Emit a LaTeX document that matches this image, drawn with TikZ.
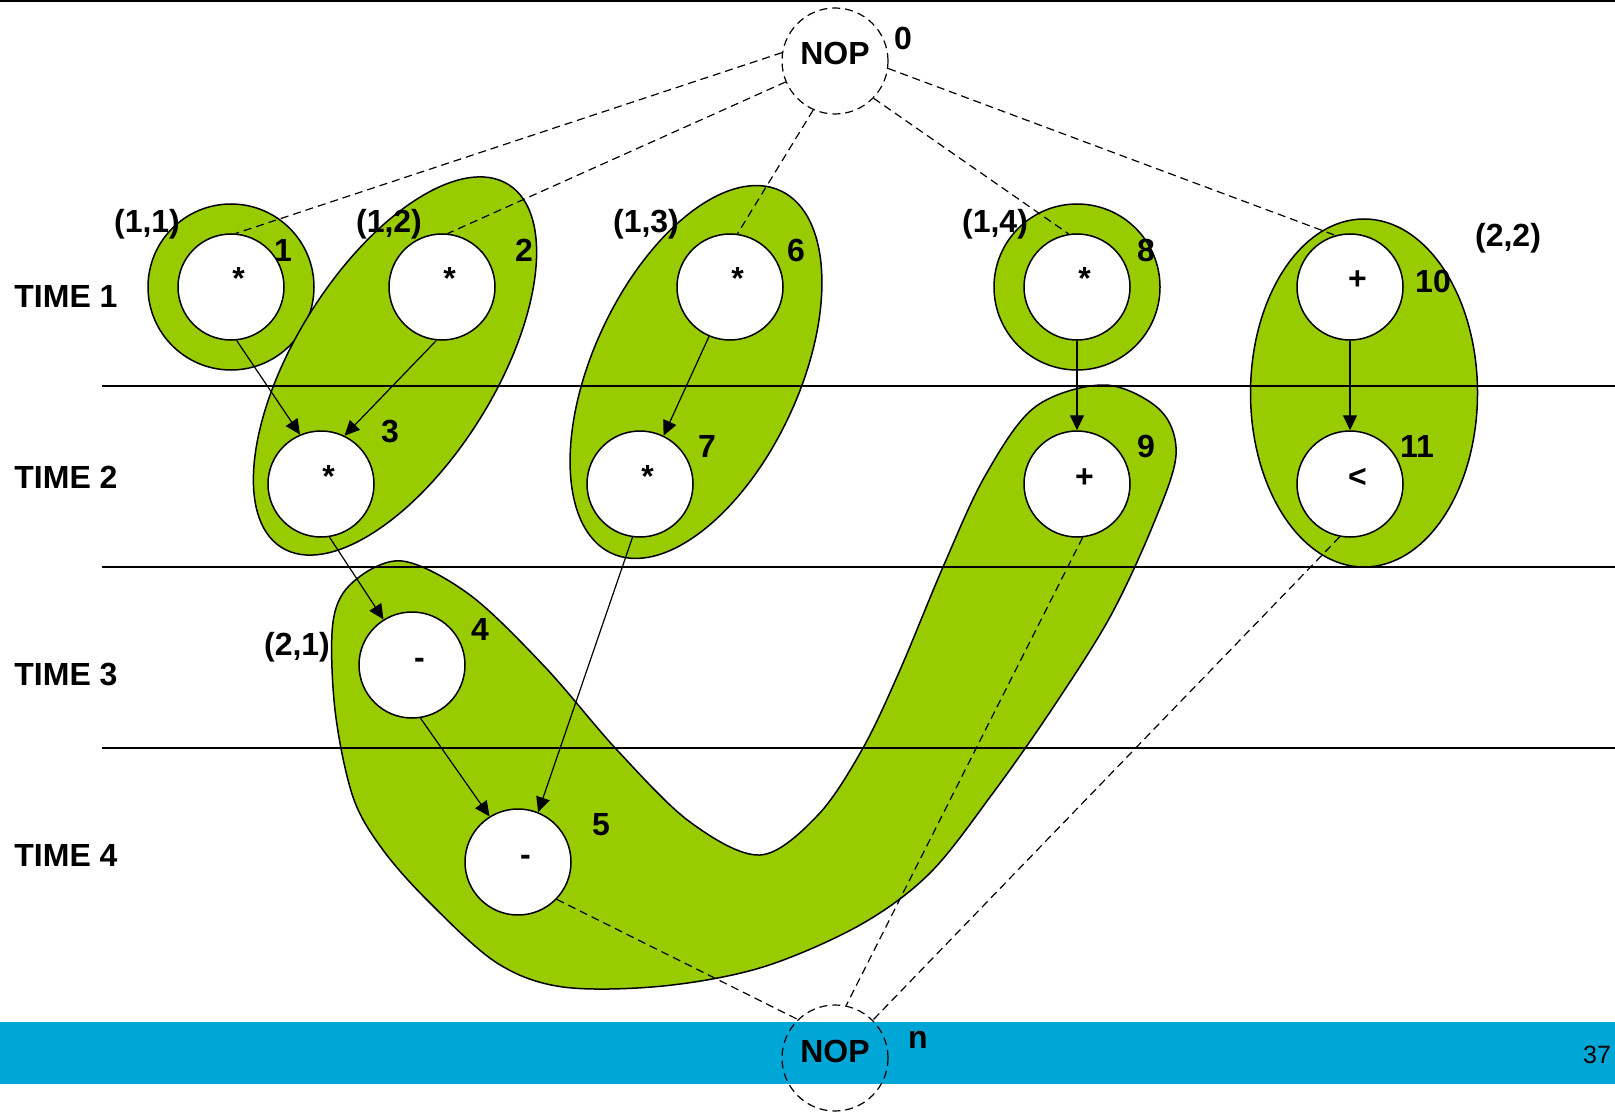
\documentclass[tikz,border=0pt]{standalone}
\usepackage{fontspec}
\setmainfont{Liberation Sans}
\usetikzlibrary{arrows.meta}
\definecolor{grn}{RGB}{153,204,0}
\definecolor{barblue}{RGB}{0,167,214}
\begin{document}
\begin{tikzpicture}[x=0.5pt,y=-0.5pt,
  op/.style={circle,draw,fill=white,line width=0.75pt,minimum size=53pt,inner sep=0pt,font=\fontsize{16}{19}\selectfont\bfseries,text height=6.5pt,text depth=3.5pt,execute at begin node=\hspace*{7.5pt}},
  nop/.style={circle,draw,line width=0.6pt,dash pattern=on 4pt off 2.5pt,minimum size=53pt,inner sep=0pt,font=\fontsize{16}{19}\selectfont\bfseries,text height=7pt,text depth=3pt},
  lbl/.style={anchor=base,inner sep=0pt,font=\fontsize{16}{19}\selectfont\bfseries},
  timelbl/.style={anchor=base west,inner sep=0pt,font=\fontsize{16}{19}\selectfont\bfseries},
  grp/.style={fill=grn,draw=black,line width=0.75pt},
  flow/.style={line width=0.6pt,-{Triangle[length=7.5pt,width=7pt]}},
  dep/.style={line width=0.6pt,dash pattern=on 4pt off 2.5pt},
  rule/.style={line width=0.75pt}]

\useasboundingbox (0,0) rectangle (1615,1112);
\fill[white] (0,0) rectangle (1615,1112);
\fill[barblue] (0,1022) rectangle (1615,1084);
\draw[line width=1pt] (0,1) -- (1615,1);

% groups
\draw[grp] (231,287) circle[radius=41.5pt];
\draw[grp,rotate around={58:(395,366)}] (395,366) ellipse[x radius=107pt,y radius=50pt];
\draw[grp,rotate around={65:(696,372)}] (696,372) ellipse[x radius=100pt,y radius=51.5pt];
\draw[grp] (1077,287) circle[radius=41.5pt];
\draw[grp] (1364,393) ellipse[x radius=56.75pt,y radius=87pt];
\draw[grp] plot[smooth cycle,tension=0.55] coordinates {
 (402,561) (470,595) (545,667) (617,750) (690,822) (760,855) (818,815) (863,748)
 (900,670) (943,567) (985,476) (1035,407) (1105,385) (1160,410) (1176,455)
 (1153,525) (1110,617) (1052,709) (993,793) (930,873) (860,925) (763,967)
 (663,986) (563,987) (497,963) (430,903) (383,850) (353,797) (335,710) (333,622)
 (353,582)};

% time rules
\draw[rule] (102,386) -- (1615,386);
\draw[rule] (102,567) -- (1615,567);
\draw[rule] (102,748) -- (1615,748);

% operation nodes
\node[nop] (n0) at (835,61) {NOP};
\node[nop] (nn) at (835,1058) {NOP};
\node[op] (n1) at (231,287) {*};
\node[op] (n2) at (442,287) {*};
\node[op] (n3) at (321,484) {*};
\node[op] (n4) at (412,665) {-};
\node[op] (n5) at (518,862) {-};
\node[op] (n6) at (730,287) {*};
\node[op] (n7) at (640,484) {*};
\node[op] (n8) at (1077,287) {*};
\node[op] (n9) at (1077,484) {+};
\node[op] (n10) at (1350,287) {+};
\node[op] (n11) at (1350,484) {<};

% data flow
\draw[flow] (n1.-84) -- (n3.113);
\draw[flow] (n2.-96) -- (n3.64);
\draw[flow] (n6.-113) -- (n7.64);
\draw[flow] (n8.south) -- (n9.north);
\draw[flow] (n10.south) -- (n11.north);
\draw[flow] (n3.-81) -- (n4.122);
\draw[flow] (n4.-81) -- (n5.122);
\draw[flow] (n7.-98) -- (n5.68);

% dependencies to NOPs
\draw[dep] (n0.171) -- (n1.85);
\draw[dep] (n0.-157) -- (n2.84);
\draw[dep] (n0.-114) -- (n6.82);
\draw[dep] (n0.-44) -- (n8.99);
\draw[dep] (n0.-8) -- (n10.106);
\draw[dep] (n5.-44) -- (nn.134);
\draw[dep] (n9.-84) -- (nn.78);
\draw[dep] (n11.-101) -- (nn.45);

% labels
\node[lbl] (c11) at (147,233) {(1,1)};
\node[lbl] (c12) at (389,233) {(1,2)};
\node[lbl] (c13) at (646,233) {(1,3)};
\node[lbl] (c14) at (995,233) {(1,4)};
\node[lbl] (c22) at (1508,247) {(2,2)};
\node[lbl] (c21) at (297,655) {(2,1)};
\node[lbl] (k1) at (283,262) {1};
\node[lbl] (k2) at (524,262) {2};
\node[lbl] (k6) at (796,262) {6};
\node[lbl] (k8) at (1146,262) {8};
\node[lbl] (k10) at (1433,293) {10};
\node[lbl] (k3) at (390,442) {3};
\node[lbl] (k7) at (707,457) {7};
\node[lbl] (k9) at (1146,457) {9};
\node[lbl] (k11) at (1417,457) {11};
\node[lbl] (k4) at (480,640) {4};
\node[lbl] (k5) at (601,835) {5};
\node[lbl] (k0) at (903,50) {0};
\node[lbl] (kn) at (918,1048) {n};
\node[timelbl] (t1) at (14,307) {TIME 1};
\node[timelbl] (t2) at (14,488) {TIME 2};
\node[timelbl] (t3) at (14,685) {TIME 3};
\node[timelbl] (t4) at (14,866) {TIME 4};
\node[anchor=base,inner sep=0pt,font=\fontsize{12.5}{15}\selectfont] (pg) at (1597,1063) {37};
\end{tikzpicture}
\end{document}
